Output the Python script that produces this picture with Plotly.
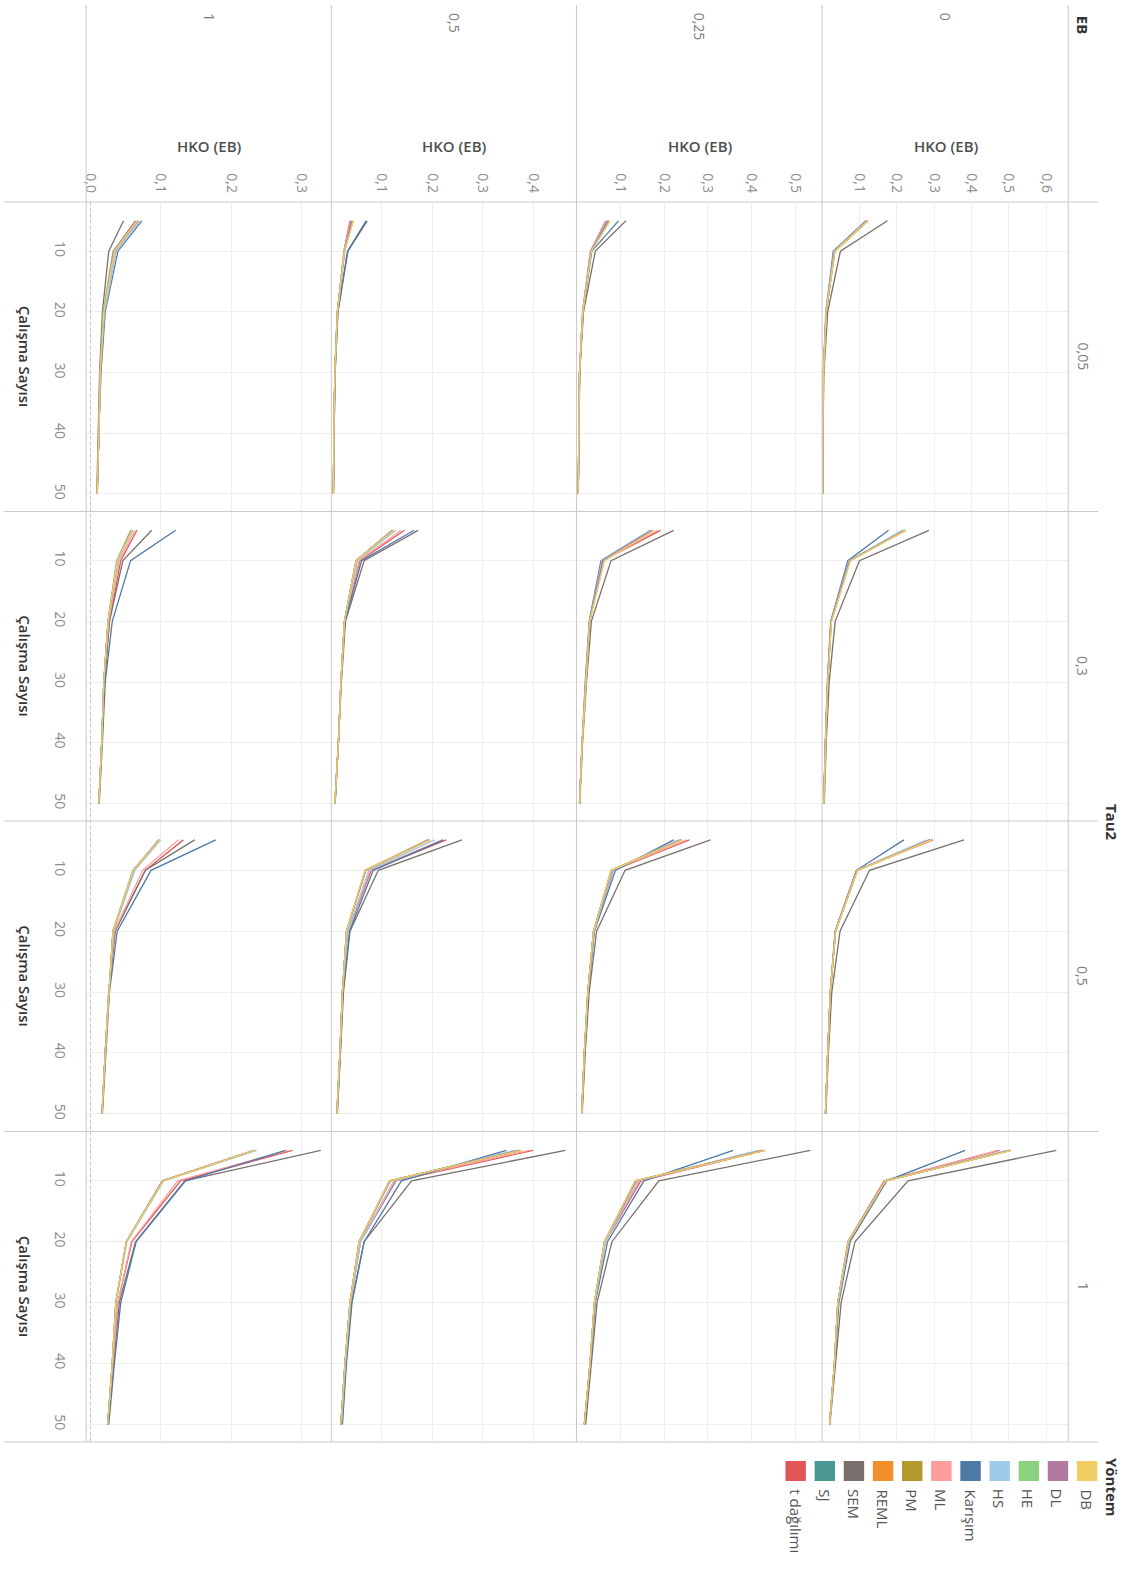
import plotly.graph_objects as go

# ---- data -----------------------------------------------------------------
calisma_sayisi = [5, 10, 20, 30, 40, 50]

yontemler = ["DB", "DL", "HE", "HS", "Karışım", "ML", "PM", "REML", "SEM", "SJ", "t dağılımı"]
renkler = ["#F1CE63", "#B07AA1", "#8CD17D", "#A0CBE8", "#4E79A7", "#FF9D9A",
           "#B6992D", "#F28E2B", "#79706E", "#499894", "#E15759"]

eb_seviyeleri = [1, 0.5, 0.25, 0]            # columns, left to right
eb_etiketleri = ["1", "0,5", "0,25", "0"]
tau2_seviyeleri = [0.05, 0.3, 0.5, 1]        # rows, top to bottom
tau2_etiketleri = ["0,05", "0,3", "0,5", "1"]

# HKO (EB) per method for k = 5, 10, 20, 30, 40, 50
hko_eb0_tau005 = {
    "DB": [0.122, 0.034, 0.011, 0.0036, 0.0020, 0.0011],
    "DL": [0.121, 0.033, 0.011, 0.0035, 0.0020, 0.0011],
    "HE": [0.122, 0.034, 0.011, 0.0036, 0.0020, 0.0011],
    "HS": [0.119, 0.032, 0.010, 0.0034, 0.0019, 0.0010],
    "Karışım": [0.117, 0.030, 0.010, 0.0033, 0.0019, 0.0010],
    "ML": [0.120, 0.033, 0.011, 0.0035, 0.0020, 0.0011],
    "PM": [0.123, 0.034, 0.011, 0.0036, 0.0020, 0.0011],
    "REML": [0.123, 0.034, 0.011, 0.0036, 0.0020, 0.0011],
    "SEM": [0.175, 0.049, 0.015, 0.0048, 0.0025, 0.0013],
    "SJ": [0.121, 0.033, 0.011, 0.0035, 0.0020, 0.0011],
    "t dağılımı": [0.121, 0.034, 0.011, 0.0035, 0.0020, 0.0011],
}
hko_eb0_tau03 = {
    "DB": [0.224, 0.076, 0.025, 0.015, 0.009, 0.0046],
    "DL": [0.221, 0.074, 0.024, 0.015, 0.009, 0.0045],
    "HE": [0.222, 0.075, 0.024, 0.015, 0.009, 0.0045],
    "HS": [0.214, 0.072, 0.024, 0.015, 0.009, 0.0045],
    "Karışım": [0.178, 0.069, 0.023, 0.014, 0.0085, 0.0043],
    "ML": [0.220, 0.072, 0.024, 0.015, 0.009, 0.0045],
    "PM": [0.223, 0.075, 0.025, 0.015, 0.009, 0.0046],
    "REML": [0.222, 0.074, 0.024, 0.015, 0.009, 0.0045],
    "SEM": [0.286, 0.100, 0.035, 0.019, 0.011, 0.0058],
    "SJ": [0.221, 0.074, 0.024, 0.015, 0.009, 0.0045],
    "t dağılımı": [0.223, 0.072, 0.024, 0.015, 0.009, 0.0045],
}
hko_eb0_tau05 = {
    "DB": [0.292, 0.095, 0.036, 0.022, 0.015, 0.009],
    "DL": [0.288, 0.094, 0.036, 0.022, 0.015, 0.009],
    "HE": [0.289, 0.094, 0.036, 0.022, 0.015, 0.009],
    "HS": [0.280, 0.093, 0.036, 0.022, 0.015, 0.009],
    "Karışım": [0.219, 0.092, 0.035, 0.022, 0.015, 0.009],
    "ML": [0.294, 0.093, 0.036, 0.022, 0.015, 0.009],
    "PM": [0.291, 0.095, 0.036, 0.022, 0.015, 0.009],
    "REML": [0.289, 0.094, 0.036, 0.022, 0.015, 0.009],
    "SEM": [0.380, 0.127, 0.048, 0.026, 0.017, 0.010],
    "SJ": [0.288, 0.094, 0.036, 0.022, 0.015, 0.009],
    "t dağılımı": [0.297, 0.092, 0.035, 0.022, 0.015, 0.009],
}
hko_eb0_tau1 = {
    "DB": [0.507, 0.170, 0.070, 0.042, 0.033, 0.020],
    "DL": [0.503, 0.169, 0.070, 0.042, 0.033, 0.020],
    "HE": [0.505, 0.170, 0.070, 0.042, 0.033, 0.020],
    "HS": [0.495, 0.169, 0.071, 0.043, 0.033, 0.020],
    "Karışım": [0.383, 0.173, 0.075, 0.045, 0.034, 0.020],
    "ML": [0.470, 0.167, 0.070, 0.042, 0.033, 0.020],
    "PM": [0.506, 0.170, 0.070, 0.042, 0.033, 0.020],
    "REML": [0.503, 0.169, 0.070, 0.042, 0.033, 0.020],
    "SEM": [0.627, 0.230, 0.088, 0.051, 0.036, 0.021],
    "SJ": [0.502, 0.169, 0.070, 0.042, 0.033, 0.020],
    "t dağılımı": [0.475, 0.166, 0.069, 0.042, 0.033, 0.020],
}
hko_eb025_tau005 = {
    "DB": [0.077, 0.034, 0.0145, 0.0070, 0.0055, 0.0040],
    "DL": [0.072, 0.033, 0.0145, 0.0070, 0.0055, 0.0040],
    "HE": [0.074, 0.033, 0.0145, 0.0070, 0.0055, 0.0040],
    "HS": [0.070, 0.032, 0.0140, 0.0069, 0.0054, 0.0040],
    "Karışım": [0.096, 0.035, 0.0150, 0.0072, 0.0056, 0.0041],
    "ML": [0.069, 0.032, 0.0140, 0.0069, 0.0054, 0.0040],
    "PM": [0.075, 0.034, 0.0145, 0.0070, 0.0055, 0.0040],
    "REML": [0.073, 0.033, 0.0145, 0.0070, 0.0055, 0.0040],
    "SEM": [0.113, 0.043, 0.0160, 0.0075, 0.0058, 0.0042],
    "SJ": [0.071, 0.033, 0.0145, 0.0070, 0.0055, 0.0040],
    "t dağılımı": [0.067, 0.032, 0.0140, 0.0069, 0.0054, 0.0040],
}
hko_eb025_tau03 = {
    "DB": [0.177, 0.064, 0.030, 0.021, 0.013, 0.0070],
    "DL": [0.173, 0.060, 0.030, 0.021, 0.013, 0.0070],
    "HE": [0.175, 0.062, 0.030, 0.021, 0.013, 0.0070],
    "HS": [0.170, 0.058, 0.030, 0.021, 0.013, 0.0070],
    "Karışım": [0.169, 0.056, 0.029, 0.020, 0.013, 0.0070],
    "ML": [0.185, 0.060, 0.030, 0.021, 0.013, 0.0070],
    "PM": [0.176, 0.063, 0.030, 0.021, 0.013, 0.0070],
    "REML": [0.174, 0.061, 0.030, 0.021, 0.013, 0.0070],
    "SEM": [0.222, 0.079, 0.034, 0.023, 0.014, 0.0075],
    "SJ": [0.172, 0.060, 0.030, 0.021, 0.013, 0.0070],
    "t dağılımı": [0.192, 0.060, 0.030, 0.021, 0.013, 0.0070],
}
hko_eb025_tau05 = {
    "DB": [0.241, 0.079, 0.039, 0.026, 0.018, 0.0120],
    "DL": [0.238, 0.080, 0.039, 0.026, 0.018, 0.0120],
    "HE": [0.240, 0.080, 0.039, 0.026, 0.018, 0.0120],
    "HS": [0.232, 0.083, 0.040, 0.026, 0.018, 0.0120],
    "Karışım": [0.222, 0.089, 0.041, 0.027, 0.019, 0.0125],
    "ML": [0.252, 0.082, 0.039, 0.026, 0.018, 0.0120],
    "PM": [0.241, 0.079, 0.039, 0.026, 0.018, 0.0120],
    "REML": [0.239, 0.080, 0.039, 0.026, 0.018, 0.0120],
    "SEM": [0.306, 0.111, 0.046, 0.029, 0.020, 0.0130],
    "SJ": [0.237, 0.080, 0.039, 0.026, 0.018, 0.0120],
    "t dağılımı": [0.258, 0.084, 0.040, 0.026, 0.018, 0.0120],
}
hko_eb025_tau1 = {
    "DB": [0.430, 0.134, 0.064, 0.041, 0.031, 0.018],
    "DL": [0.425, 0.136, 0.064, 0.041, 0.031, 0.018],
    "HE": [0.428, 0.135, 0.064, 0.041, 0.031, 0.018],
    "HS": [0.415, 0.140, 0.066, 0.042, 0.031, 0.018],
    "Karışım": [0.358, 0.154, 0.071, 0.043, 0.032, 0.019],
    "ML": [0.426, 0.143, 0.065, 0.041, 0.031, 0.018],
    "PM": [0.431, 0.134, 0.064, 0.041, 0.031, 0.018],
    "REML": [0.427, 0.135, 0.064, 0.041, 0.031, 0.018],
    "SEM": [0.534, 0.188, 0.081, 0.047, 0.034, 0.021],
    "SJ": [0.424, 0.136, 0.064, 0.041, 0.031, 0.018],
    "t dağılımı": [0.430, 0.147, 0.066, 0.042, 0.031, 0.018],
}
hko_eb05_tau005 = {
    "DB": [0.044, 0.026, 0.012, 0.0070, 0.0050, 0.0040],
    "DL": [0.040, 0.026, 0.012, 0.0070, 0.0050, 0.0040],
    "HE": [0.042, 0.026, 0.012, 0.0070, 0.0050, 0.0040],
    "HS": [0.041, 0.027, 0.012, 0.0070, 0.0050, 0.0040],
    "Karışım": [0.069, 0.032, 0.013, 0.0075, 0.0055, 0.0042],
    "ML": [0.038, 0.025, 0.012, 0.0070, 0.0050, 0.0040],
    "PM": [0.043, 0.026, 0.012, 0.0070, 0.0050, 0.0040],
    "REML": [0.041, 0.026, 0.012, 0.0070, 0.0050, 0.0040],
    "SEM": [0.071, 0.033, 0.013, 0.0075, 0.0055, 0.0042],
    "SJ": [0.039, 0.026, 0.012, 0.0070, 0.0050, 0.0040],
    "t dağılımı": [0.037, 0.025, 0.012, 0.0070, 0.0050, 0.0040],
}
hko_eb05_tau03 = {
    "DB": [0.123, 0.049, 0.026, 0.019, 0.014, 0.0070],
    "DL": [0.121, 0.049, 0.026, 0.019, 0.014, 0.0070],
    "HE": [0.122, 0.049, 0.026, 0.019, 0.014, 0.0070],
    "HS": [0.128, 0.052, 0.026, 0.019, 0.014, 0.0070],
    "Karışım": [0.164, 0.060, 0.027, 0.019, 0.014, 0.0075],
    "ML": [0.138, 0.055, 0.026, 0.019, 0.014, 0.0070],
    "PM": [0.124, 0.049, 0.026, 0.019, 0.014, 0.0070],
    "REML": [0.122, 0.049, 0.026, 0.019, 0.014, 0.0070],
    "SEM": [0.172, 0.065, 0.028, 0.020, 0.014, 0.0075],
    "SJ": [0.121, 0.049, 0.026, 0.019, 0.014, 0.0070],
    "t dağılımı": [0.145, 0.057, 0.026, 0.019, 0.014, 0.0070],
}
hko_eb05_tau05 = {
    "DB": [0.195, 0.067, 0.030, 0.022, 0.017, 0.0110],
    "DL": [0.192, 0.068, 0.030, 0.022, 0.017, 0.0110],
    "HE": [0.194, 0.068, 0.030, 0.022, 0.017, 0.0110],
    "HS": [0.205, 0.074, 0.033, 0.022, 0.017, 0.0110],
    "Karışım": [0.222, 0.083, 0.036, 0.023, 0.018, 0.0115],
    "ML": [0.220, 0.077, 0.032, 0.022, 0.017, 0.0110],
    "PM": [0.196, 0.067, 0.030, 0.022, 0.017, 0.0110],
    "REML": [0.193, 0.068, 0.030, 0.022, 0.017, 0.0110],
    "SEM": [0.259, 0.093, 0.037, 0.024, 0.018, 0.0120],
    "SJ": [0.192, 0.068, 0.030, 0.022, 0.017, 0.0110],
    "t dağılımı": [0.228, 0.079, 0.033, 0.022, 0.017, 0.0110],
}
hko_eb05_tau1 = {
    "DB": [0.376, 0.115, 0.055, 0.037, 0.027, 0.019],
    "DL": [0.372, 0.116, 0.055, 0.037, 0.027, 0.019],
    "HE": [0.374, 0.116, 0.055, 0.037, 0.027, 0.019],
    "HS": [0.362, 0.125, 0.058, 0.038, 0.028, 0.020],
    "Karışım": [0.347, 0.139, 0.065, 0.041, 0.030, 0.022],
    "ML": [0.392, 0.124, 0.057, 0.038, 0.028, 0.019],
    "PM": [0.377, 0.115, 0.055, 0.037, 0.027, 0.019],
    "REML": [0.373, 0.116, 0.055, 0.037, 0.027, 0.019],
    "SEM": [0.464, 0.159, 0.065, 0.040, 0.029, 0.021],
    "SJ": [0.371, 0.117, 0.055, 0.037, 0.027, 0.019],
    "t dağılımı": [0.400, 0.128, 0.058, 0.038, 0.028, 0.019],
}
hko_eb1_tau005 = {
    "DB": [0.066, 0.034, 0.019, 0.014, 0.012, 0.0095],
    "DL": [0.064, 0.033, 0.019, 0.014, 0.012, 0.0095],
    "HE": [0.065, 0.032, 0.018, 0.014, 0.012, 0.0095],
    "HS": [0.070, 0.037, 0.020, 0.014, 0.012, 0.0095],
    "Karışım": [0.073, 0.039, 0.021, 0.015, 0.012, 0.0098],
    "ML": [0.067, 0.035, 0.019, 0.014, 0.012, 0.0095],
    "PM": [0.068, 0.034, 0.019, 0.014, 0.012, 0.0095],
    "REML": [0.067, 0.034, 0.019, 0.014, 0.012, 0.0095],
    "SEM": [0.047, 0.026, 0.017, 0.013, 0.011, 0.0090],
    "SJ": [0.064, 0.033, 0.019, 0.014, 0.012, 0.0095],
    "t dağılımı": [0.068, 0.035, 0.019, 0.014, 0.012, 0.0095],
}
hko_eb1_tau03 = {
    "DB": [0.059, 0.038, 0.025, 0.019, 0.016, 0.0120],
    "DL": [0.058, 0.038, 0.025, 0.019, 0.016, 0.0120],
    "HE": [0.057, 0.037, 0.025, 0.019, 0.016, 0.0120],
    "HS": [0.060, 0.039, 0.025, 0.019, 0.016, 0.0120],
    "Karışım": [0.121, 0.057, 0.031, 0.021, 0.017, 0.0125],
    "ML": [0.063, 0.041, 0.026, 0.019, 0.016, 0.0120],
    "PM": [0.060, 0.038, 0.025, 0.019, 0.016, 0.0120],
    "REML": [0.059, 0.038, 0.025, 0.019, 0.016, 0.0120],
    "SEM": [0.087, 0.046, 0.027, 0.020, 0.016, 0.0120],
    "SJ": [0.058, 0.038, 0.025, 0.019, 0.016, 0.0120],
    "t dağılımı": [0.066, 0.043, 0.027, 0.020, 0.016, 0.0120],
}
hko_eb1_tau05 = {
    "DB": [0.098, 0.061, 0.032, 0.026, 0.021, 0.0165],
    "DL": [0.097, 0.061, 0.032, 0.026, 0.021, 0.0165],
    "HE": [0.098, 0.060, 0.032, 0.026, 0.021, 0.0165],
    "HS": [0.100, 0.063, 0.033, 0.026, 0.021, 0.0165],
    "Karışım": [0.178, 0.086, 0.038, 0.027, 0.022, 0.0170],
    "ML": [0.125, 0.074, 0.034, 0.026, 0.021, 0.0165],
    "PM": [0.099, 0.061, 0.032, 0.026, 0.021, 0.0165],
    "REML": [0.098, 0.061, 0.032, 0.026, 0.021, 0.0165],
    "SEM": [0.148, 0.078, 0.035, 0.026, 0.021, 0.0165],
    "SJ": [0.097, 0.061, 0.032, 0.026, 0.021, 0.0165],
    "t dağılımı": [0.132, 0.078, 0.035, 0.026, 0.021, 0.0165],
}
hko_eb1_tau1 = {
    "DB": [0.233, 0.103, 0.051, 0.036, 0.031, 0.0245],
    "DL": [0.232, 0.102, 0.051, 0.036, 0.031, 0.0245],
    "HE": [0.233, 0.103, 0.051, 0.036, 0.031, 0.0245],
    "HS": [0.236, 0.104, 0.052, 0.036, 0.031, 0.0245],
    "Karışım": [0.277, 0.135, 0.065, 0.043, 0.034, 0.0260],
    "ML": [0.280, 0.124, 0.058, 0.039, 0.032, 0.0250],
    "PM": [0.234, 0.103, 0.051, 0.036, 0.031, 0.0245],
    "REML": [0.233, 0.103, 0.051, 0.036, 0.031, 0.0245],
    "SEM": [0.327, 0.134, 0.064, 0.041, 0.033, 0.0250],
    "SJ": [0.232, 0.102, 0.051, 0.036, 0.031, 0.0245],
    "t dağılımı": [0.287, 0.128, 0.059, 0.039, 0.032, 0.0250],
}

# (tau2, eb) -> panel data
panel_verisi = {
    (0.05, 0): hko_eb0_tau005, (0.3, 0): hko_eb0_tau03,
    (0.5, 0): hko_eb0_tau05, (1, 0): hko_eb0_tau1,
    (0.05, 0.25): hko_eb025_tau005, (0.3, 0.25): hko_eb025_tau03,
    (0.5, 0.25): hko_eb025_tau05, (1, 0.25): hko_eb025_tau1,
    (0.05, 0.5): hko_eb05_tau005, (0.3, 0.5): hko_eb05_tau03,
    (0.5, 0.5): hko_eb05_tau05, (1, 0.5): hko_eb05_tau1,
    (0.05, 1): hko_eb1_tau005, (0.3, 1): hko_eb1_tau03,
    (0.5, 1): hko_eb1_tau05, (1, 1): hko_eb1_tau1,
}

# HKO axis ticks per EB column
hko_tikleri = {
    1: [0.0, 0.1, 0.2, 0.3],
    0.5: [0.1, 0.2, 0.3, 0.4],
    0.25: [0.1, 0.2, 0.3, 0.4, 0.5],
    0: [0.1, 0.2, 0.3, 0.4, 0.5, 0.6],
}
hko_tik_etiketleri = {
    1: ["0,0", "0,1", "0,2", "0,3"],
    0.5: ["0,1", "0,2", "0,3", "0,4"],
    0.25: ["0,1", "0,2", "0,3", "0,4", "0,5"],
    0: ["0,1", "0,2", "0,3", "0,4", "0,5", "0,6"],
}
calisma_tikleri = [10, 20, 30, 40, 50]

# ---- layout geometry (pixels) ---------------------------------------------
W, H = 1133, 1573
FONT = "Open Sans"
GRID = "#eeeeee"
BORDER = "#c9c9c9"

def fx(x):
    return x / W

def fy(y):
    return 1 - y / H

col_edges = [82.5, 328.5, 574.5, 821.0, 1068.0]
row_edges = [202.0, 511.5, 821.0, 1131.5, 1442.0]
hko_aralik = {1: [-0.006, 0.342], 0.5: [0.0, 0.486], 0.25: [0.0, 0.561], 0: [0.0, 0.659]}
k_aralik = [52.9, 1.9]

fig = go.Figure()
layout = {}

for r, tau in enumerate(tau2_seviyeleri):
    for c, eb in enumerate(eb_seviyeleri):
        i = r * 4 + c + 1
        xs = "" if i == 1 else str(i)
        veri = panel_verisi[(tau, eb)]
        # draw in reverse legend order so DB ends up on top
        for ad, renk in reversed(list(zip(yontemler, renkler))):
            fig.add_trace(go.Scatter(
                x=veri[ad], y=calisma_sayisi, mode="lines", name=ad,
                line=dict(color=renk, width=1.3),
                xaxis="x" + xs, yaxis="y" + xs, showlegend=False,
            ))
        layout["xaxis" + xs] = dict(
            domain=[fx(col_edges[c]), fx(col_edges[c + 1])],
            anchor="y" + xs, range=hko_aralik[eb],
            tickvals=hko_tikleri[eb], ticktext=hko_tik_etiketleri[eb],
            showgrid=True, gridcolor=GRID, gridwidth=1, zeroline=False,
            showline=False, ticks="",
            showticklabels=(r == 0), side="top", tickangle=90,
            ticklabelstandoff=6,
            tickfont=dict(family=FONT, size=14, color="#8a8a8a"),
        )
        layout["yaxis" + xs] = dict(
            domain=[fy(row_edges[r + 1]), fy(row_edges[r])],
            anchor="x" + xs, range=k_aralik,
            tickvals=calisma_tikleri, showgrid=True, gridcolor=GRID, gridwidth=1,
            zeroline=False, showline=False, ticks="",
            showticklabels=(c == 0), tickangle=90, ticklabelstandoff=16,
            tickfont=dict(family=FONT, size=14, color="#8a8a8a"),
        )

shapes = []
# column dividers
for xe in col_edges:
    shapes.append(dict(type="line", xref="paper", yref="paper",
                       x0=fx(xe), x1=fx(xe), y0=fy(5), y1=fy(1442),
                       line=dict(color=BORDER, width=1)))
# row dividers
for ye in row_edges:
    shapes.append(dict(type="line", xref="paper", yref="paper",
                       x0=0, x1=fx(1098), y0=fy(ye), y1=fy(ye),
                       line=dict(color=BORDER, width=1)))
# dotted zero line in the EB = 1 column
shapes.append(dict(type="line", xref="x", yref="paper", x0=0, x1=0,
                   y0=fy(202), y1=fy(1442),
                   line=dict(color="#c4c4c4", width=1, dash="dot")))

annotations = []
# EB header
annotations.append(dict(text="<b>EB</b>", x=fx(1083), y=fy(14), xref="paper", yref="paper",
                        xanchor="center", yanchor="top", textangle=90, showarrow=False,
                        font=dict(family=FONT, size=15, color="#333333")))
for c, lab in enumerate(eb_etiketleri):
    xc = (col_edges[c] + col_edges[c + 1]) / 2
    annotations.append(dict(text=lab, x=fx(xc), y=fy(11), xref="paper", yref="paper",
                            xanchor="center", yanchor="top", textangle=90, showarrow=False,
                            font=dict(family=FONT, size=14, color="#7a7a7a")))
    annotations.append(dict(text="HKO (EB)", x=fx(xc + 1), y=fy(146), xref="paper", yref="paper",
                            xanchor="center", yanchor="middle", showarrow=False,
                            font=dict(family=FONT, size=15, color="#4f4f4f", weight=600)))
# Tau2 header and row labels
annotations.append(dict(text="<b>Tau2</b>", x=fx(1112), y=fy(822), xref="paper", yref="paper",
                        xanchor="center", yanchor="middle", textangle=90, showarrow=False,
                        font=dict(family=FONT, size=15, color="#333333")))
for r, lab in enumerate(tau2_etiketleri):
    yc = (row_edges[r] + row_edges[r + 1]) / 2
    annotations.append(dict(text=lab, x=fx(1083), y=fy(yc), xref="paper", yref="paper",
                            xanchor="center", yanchor="middle", textangle=90, showarrow=False,
                            font=dict(family=FONT, size=14, color="#7a7a7a")))
    annotations.append(dict(text="Çalışma Sayısı", x=fx(21), y=fy(yc), xref="paper", yref="paper",
                            xanchor="center", yanchor="middle", textangle=90, showarrow=False,
                            font=dict(family=FONT, size=15, color="#333333", weight=600)))

# legend (Yöntem)
annotations.append(dict(text="<b>Yöntem</b>", x=fx(1112.5), y=fy(1456), xref="paper", yref="paper",
                        xanchor="center", yanchor="top", textangle=90, showarrow=False,
                        font=dict(family=FONT, size=15, color="#333333")))
leg_x0 = 1076.7
leg_step = 29.25
for j, (ad, renk) in enumerate(zip(yontemler, renkler)):
    x0 = leg_x0 - j * leg_step
    shapes.append(dict(type="rect", xref="paper", yref="paper",
                       x0=fx(x0), x1=fx(x0 + 20.5), y0=fy(1481), y1=fy(1461),
                       fillcolor=renk, line=dict(width=0)))
    annotations.append(dict(text=ad, x=fx(x0 + 10.25), y=fy(1487), xref="paper", yref="paper",
                            xanchor="center", yanchor="top", textangle=90, showarrow=False,
                            font=dict(family=FONT, size=15, color="#555555")))

fig.update_layout(
    width=W, height=H, margin=dict(l=0, r=0, t=0, b=0),
    paper_bgcolor="white", plot_bgcolor="white",
    separators=",.", shapes=shapes, annotations=annotations,
    font=dict(family=FONT), **layout,
)

fig.write_html("out.html")
